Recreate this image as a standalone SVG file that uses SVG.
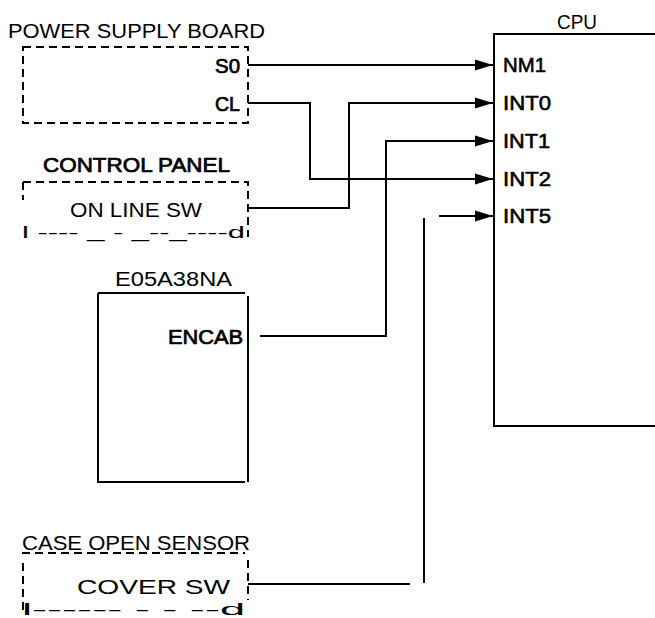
<svg xmlns="http://www.w3.org/2000/svg" width="655" height="618" viewBox="0 0 655 618">
<style>
text{font-family:"Liberation Sans",Arial,sans-serif;font-size:20px;fill:#000}
.m{stroke:#000;stroke-width:0.7}
.pin{font-size:21px;stroke:#000;stroke-width:0.6}
.g{font-size:16px}
.ln{fill:none;stroke:#000;stroke-width:2}
.dash{fill:none;stroke:#000;stroke-width:2;stroke-dasharray:8 5}
</style>
<defs>
<marker id="arr" markerUnits="userSpaceOnUse" markerWidth="20" markerHeight="12" refX="18" refY="6" orient="auto">
<path d="M0,0.5 L18,6 L0,11.5 Z" fill="#000"/>
</marker>
</defs>
<rect width="655" height="618" fill="#fff"/>

<g id="power-supply-board">
<text x="8" y="38" textLength="257" lengthAdjust="spacingAndGlyphs">POWER SUPPLY BOARD</text>
<rect x="23" y="47" width="225" height="76" class="dash"/>
<text class="m" x="215" y="73" textLength="25" lengthAdjust="spacingAndGlyphs" font-size="21">S0</text>
<text class="m" x="215" y="111" textLength="25" lengthAdjust="spacingAndGlyphs" font-size="21">CL</text>
</g>

<g id="control-panel">
<text class="m" x="43" y="172" textLength="187" lengthAdjust="spacingAndGlyphs">CONTROL PANEL</text>
<path d="M23,182 H248 V237" class="dash"/>
<path d="M23,182 V200" class="dash"/>
<text x="70" y="217" textLength="132" lengthAdjust="spacingAndGlyphs" font-size="21">ON LINE SW</text>
<text class="g" x="22" y="238" textLength="223" lengthAdjust="spacingAndGlyphs">l ---- _ - _--_----d</text>
</g>

<g id="e05a38na">
<text x="115" y="286" textLength="117" lengthAdjust="spacingAndGlyphs" font-size="21">E05A38NA</text>
<path d="M98,293 H245 M248,296 V482 M98,293 V482 H245" class="ln"/>
<text class="m" x="168" y="344" textLength="75" lengthAdjust="spacingAndGlyphs" font-size="21">ENCAB</text>
</g>

<g id="cpu">
<text x="557" y="29" textLength="40" lengthAdjust="spacingAndGlyphs" font-size="21">CPU</text>
<path d="M655,34 H494 V426 H655" class="ln"/>
<text class="pin" x="503" y="72" textLength="43" lengthAdjust="spacingAndGlyphs">NM1</text>
<text class="pin" x="503" y="110" textLength="48" lengthAdjust="spacingAndGlyphs">INT0</text>
<text class="pin" x="503" y="148" textLength="47" lengthAdjust="spacingAndGlyphs">INT1</text>
<text class="pin" x="503" y="186" textLength="48" lengthAdjust="spacingAndGlyphs">INT2</text>
<text class="pin" x="503" y="223" textLength="48" lengthAdjust="spacingAndGlyphs">INT5</text>
</g>

<g id="case-open-sensor">
<text x="22" y="550" textLength="228" lengthAdjust="spacingAndGlyphs">CASE OPEN SENSOR</text>
<path d="M22,553 H245" class="dash"/>
<path d="M23,563 V610" class="dash"/>
<path d="M248,560 V600" class="dash"/>
<text x="77" y="594" textLength="153" lengthAdjust="spacingAndGlyphs" font-size="21">COVER SW</text>
<text class="g" x="22" y="615" textLength="223" lengthAdjust="spacingAndGlyphs">l------         -  -  --d</text>
</g>

<g id="connectors">
<path d="M248,65 H493" class="ln" marker-end="url(#arr)"/>
<path d="M248,103 H310 V179 H493" class="ln" marker-end="url(#arr)"/>
<path d="M248,208 H349 V103 H493" class="ln" marker-end="url(#arr)"/>
<path d="M260,336 H386 V141 H493" class="ln" marker-end="url(#arr)"/>
<path d="M439,216 H493" class="ln" marker-end="url(#arr)"/>
<path d="M424,218 V583" class="ln"/>
<path d="M248,584 H410" class="ln"/>
</g>
</svg>
